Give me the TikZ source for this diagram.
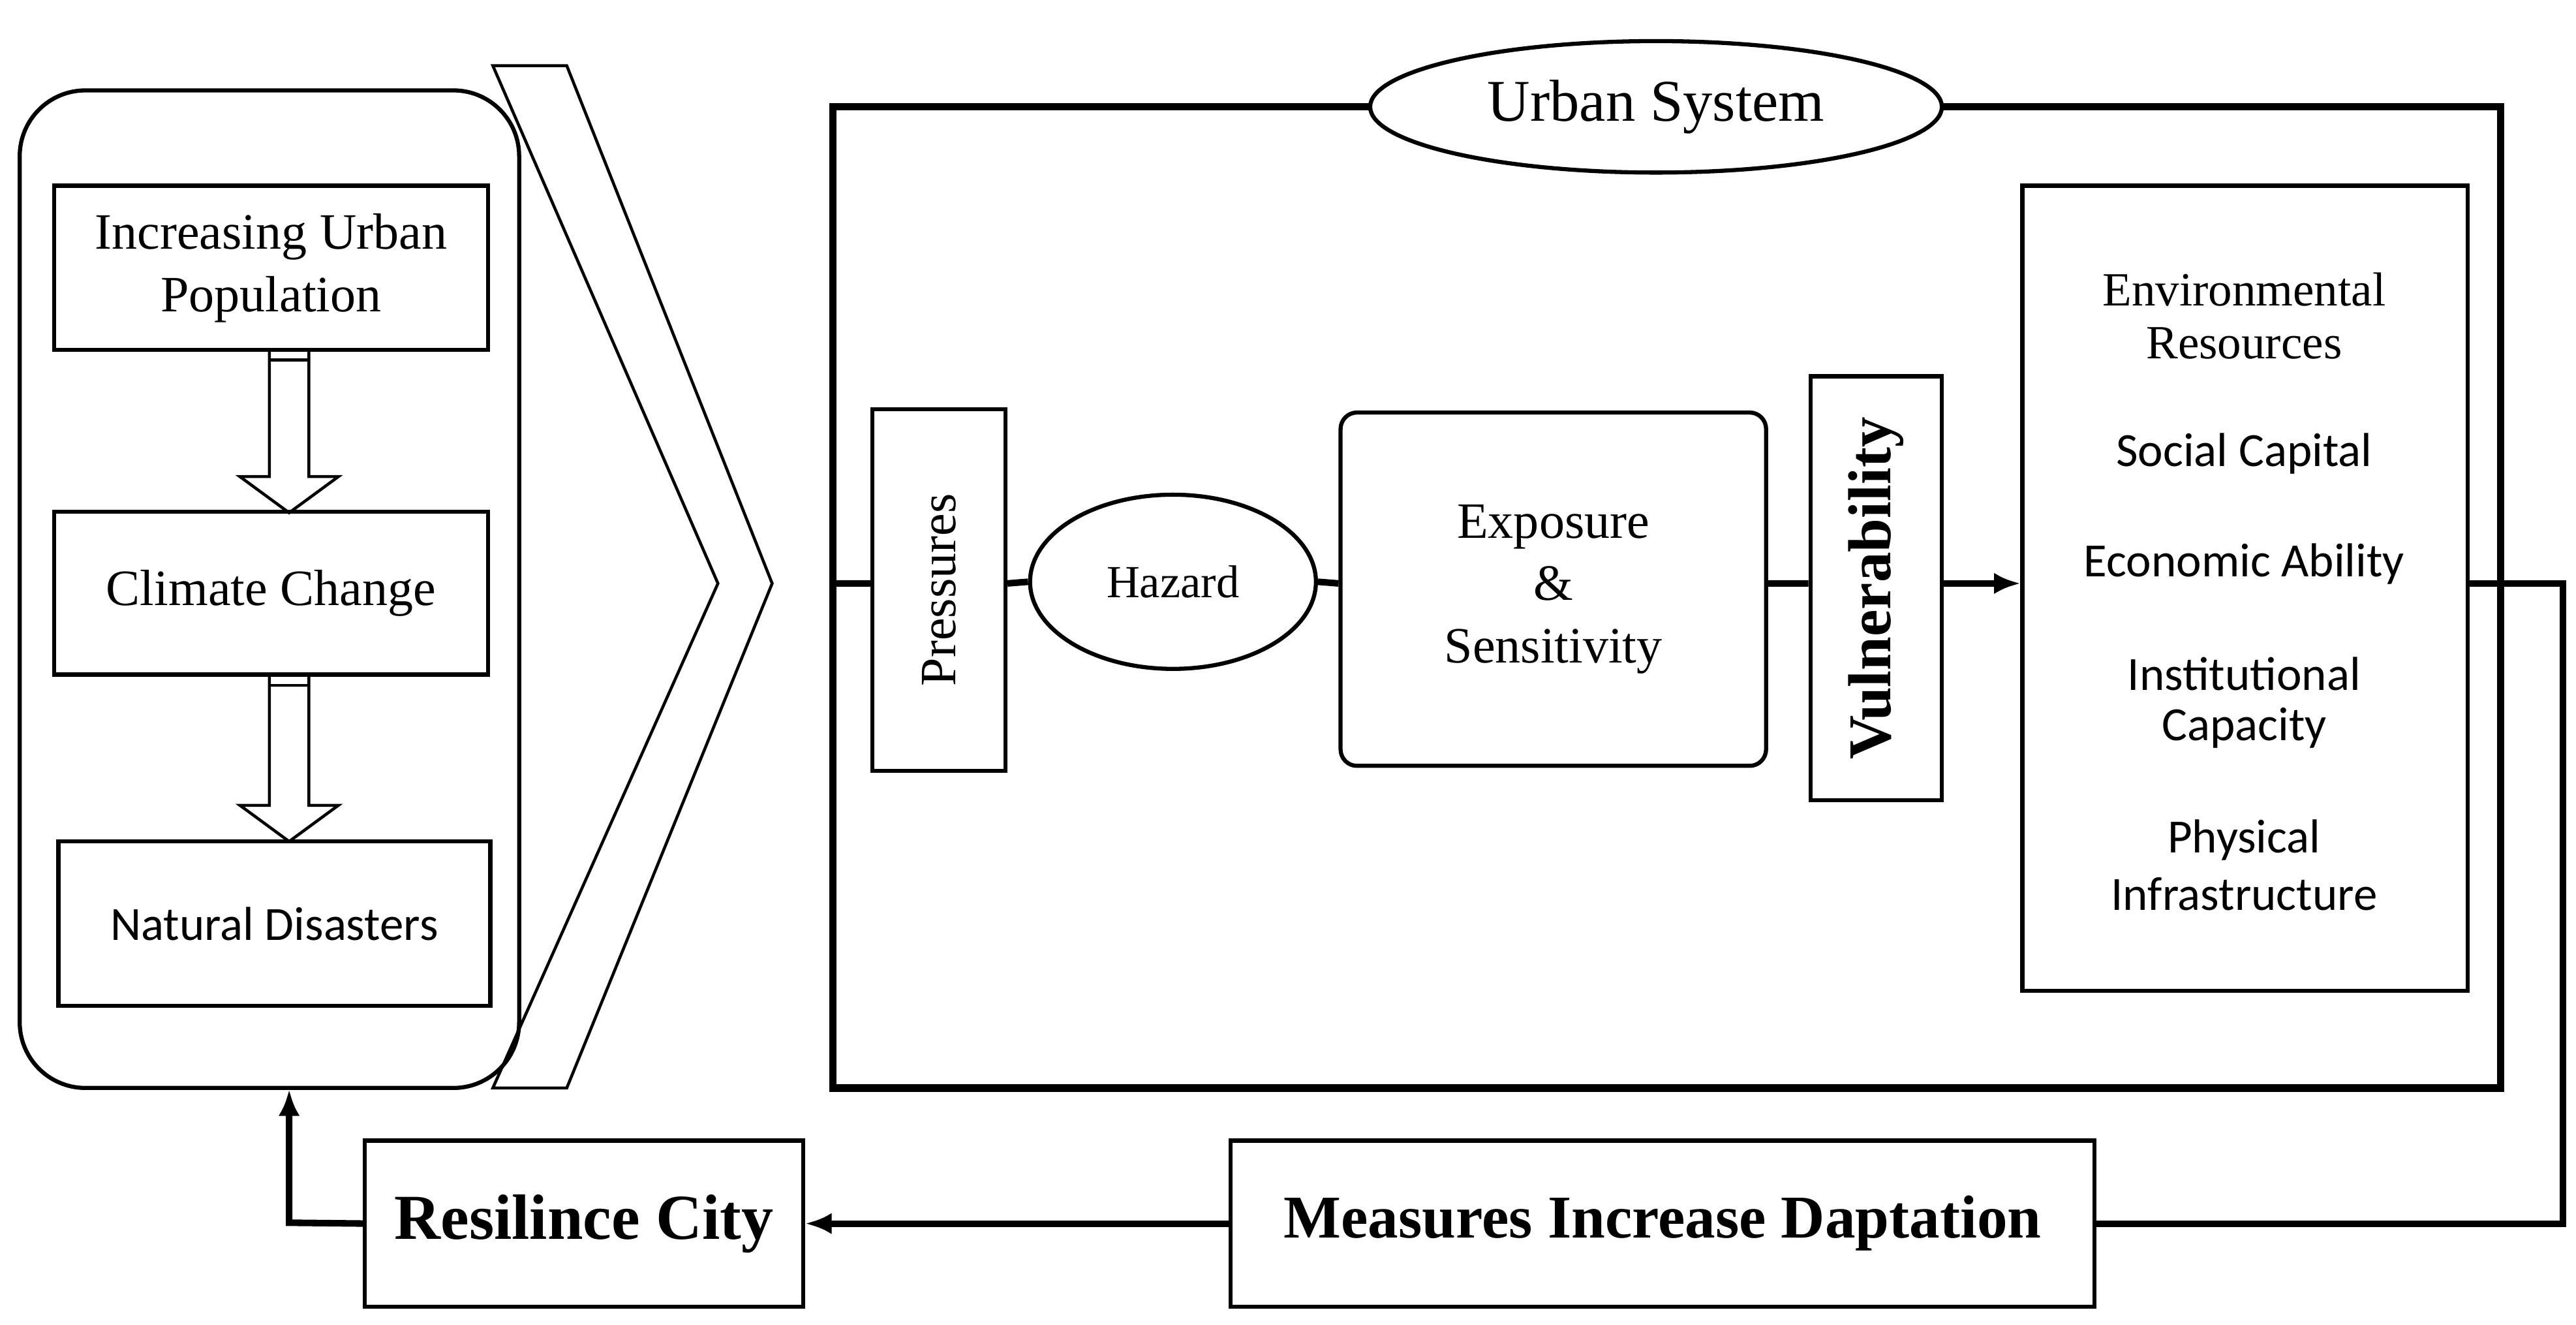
\documentclass[tikz,border=0pt]{standalone}
\usepackage{fontspec}
\setmainfont{Liberation Serif}
\newfontfamily\calfont{Carlito}
\usetikzlibrary{shapes.geometric,arrows.meta}
\begin{document}
\begin{tikzpicture}[x=1pt,y=-1pt,line width=2.5pt,
  tx/.style={font=\fontsize{31}{38}\selectfont,align=center},
  cx/.style={font=\calfont\fontsize{29}{34}\selectfont,align=center},
  arr/.style={-{Latex[length=16pt,width=13pt]}}]
\useasboundingbox (0,0) rectangle (1568,806);
% left panel
\draw[rounded corners=40] (12,55) rectangle (316,662);
\node[draw,minimum width=264,minimum height=100,tx,inner sep=0] (b1) at (165,163) {Increasing Urban\\Population};
\node[draw,minimum width=264,minimum height=99,tx,inner sep=0] (b2) at (165,361) {Climate Change};
\node[draw,minimum width=263,minimum height=100,inner sep=0,cx] (b3) at (167,562) {Natural Disasters};
\foreach \t/\b in {213/290,411/490}{
 \draw[line width=1.8pt] (164,\t)--(164,\b)--(146,\b)--(176,\b+22)--(206,\b)--(188,\b)--(188,\t);
 \draw[line width=1.8pt] (164,\t+6)--(188,\t+6);}
% chevron
\draw[line width=1.8pt] (300,40)--(345,40)--(470,355)--(345,662)--(300,662)--(437,355)--cycle;
% urban system
\draw[line width=4.5pt] (507,65) rectangle (1522,662);
\node[ellipse,draw,fill=white,minimum width=348,minimum height=80,font=\fontsize{36}{42}\selectfont] (us) at (1008,65) {Urban System};
\coordinate (L) at (507,355);
\node[draw,minimum width=81,minimum height=220] (pr) at (571.5,359) {};
\node[rotate=90,tx] at (pr) {Pressures};
\node[ellipse,draw,minimum width=174,minimum height=106,font=\fontsize{28}{34}\selectfont] (hz) at (714,354) {Hazard};
\node[draw,rounded corners=10,minimum width=259,minimum height=215,tx] (ex) at (945.5,358.5) {Exposure\\\&\\Sensitivity};
\node[draw,minimum width=80,minimum height=258] (vu) at (1142,358) {};
\node[rotate=90,font=\bfseries\fontsize{37}{42}\selectfont] at (vu) {Vulnerability};
\node[draw,minimum width=271,minimum height=490] (rb) at (1366.5,358) {};
\foreach \y/\s in {176/Environmental,209/Resources}{\node[tx,font=\fontsize{29}{34}\selectfont] at (1366,\y) {\s};}
\foreach \y/\s in {276/Social Capital,343/Economic Ability,410/Institutional,443/Capacity,511/Physical,544/Infrastructure}{\node[cx] at (1366,\y) {\s};}
\draw[line width=4pt] (L)--(pr.west|-L) (pr.east|-L)--(hz.west) (hz.east)--(ex.west|-L) (ex.east|-L)--(vu.west|-L);
\draw[line width=4pt,arr] (vu.east|-L)--(rb.west|-L);
% bottom
\node[draw,minimum width=526,minimum height=101,font=\bfseries\fontsize{37}{42}\selectfont] (me) at (1012,744.5) {Measures Increase Daptation};
\node[draw,minimum width=267,minimum height=101,font=\bfseries\fontsize{39}{44}\selectfont,inner sep=0] (rc) at (355.5,744.5) {Resilince City};
\coordinate (c1) at (1560,355);
\coordinate (c2) at (176,744);
\draw[line width=4pt] (rb.east|-L)--(c1)|-(me.east);
\draw[line width=4pt,arr] (me.west)--(rc.east);
\draw[line width=4pt,arr] (rc.west)--(c2)--(176,663);
\end{tikzpicture}
\end{document}
